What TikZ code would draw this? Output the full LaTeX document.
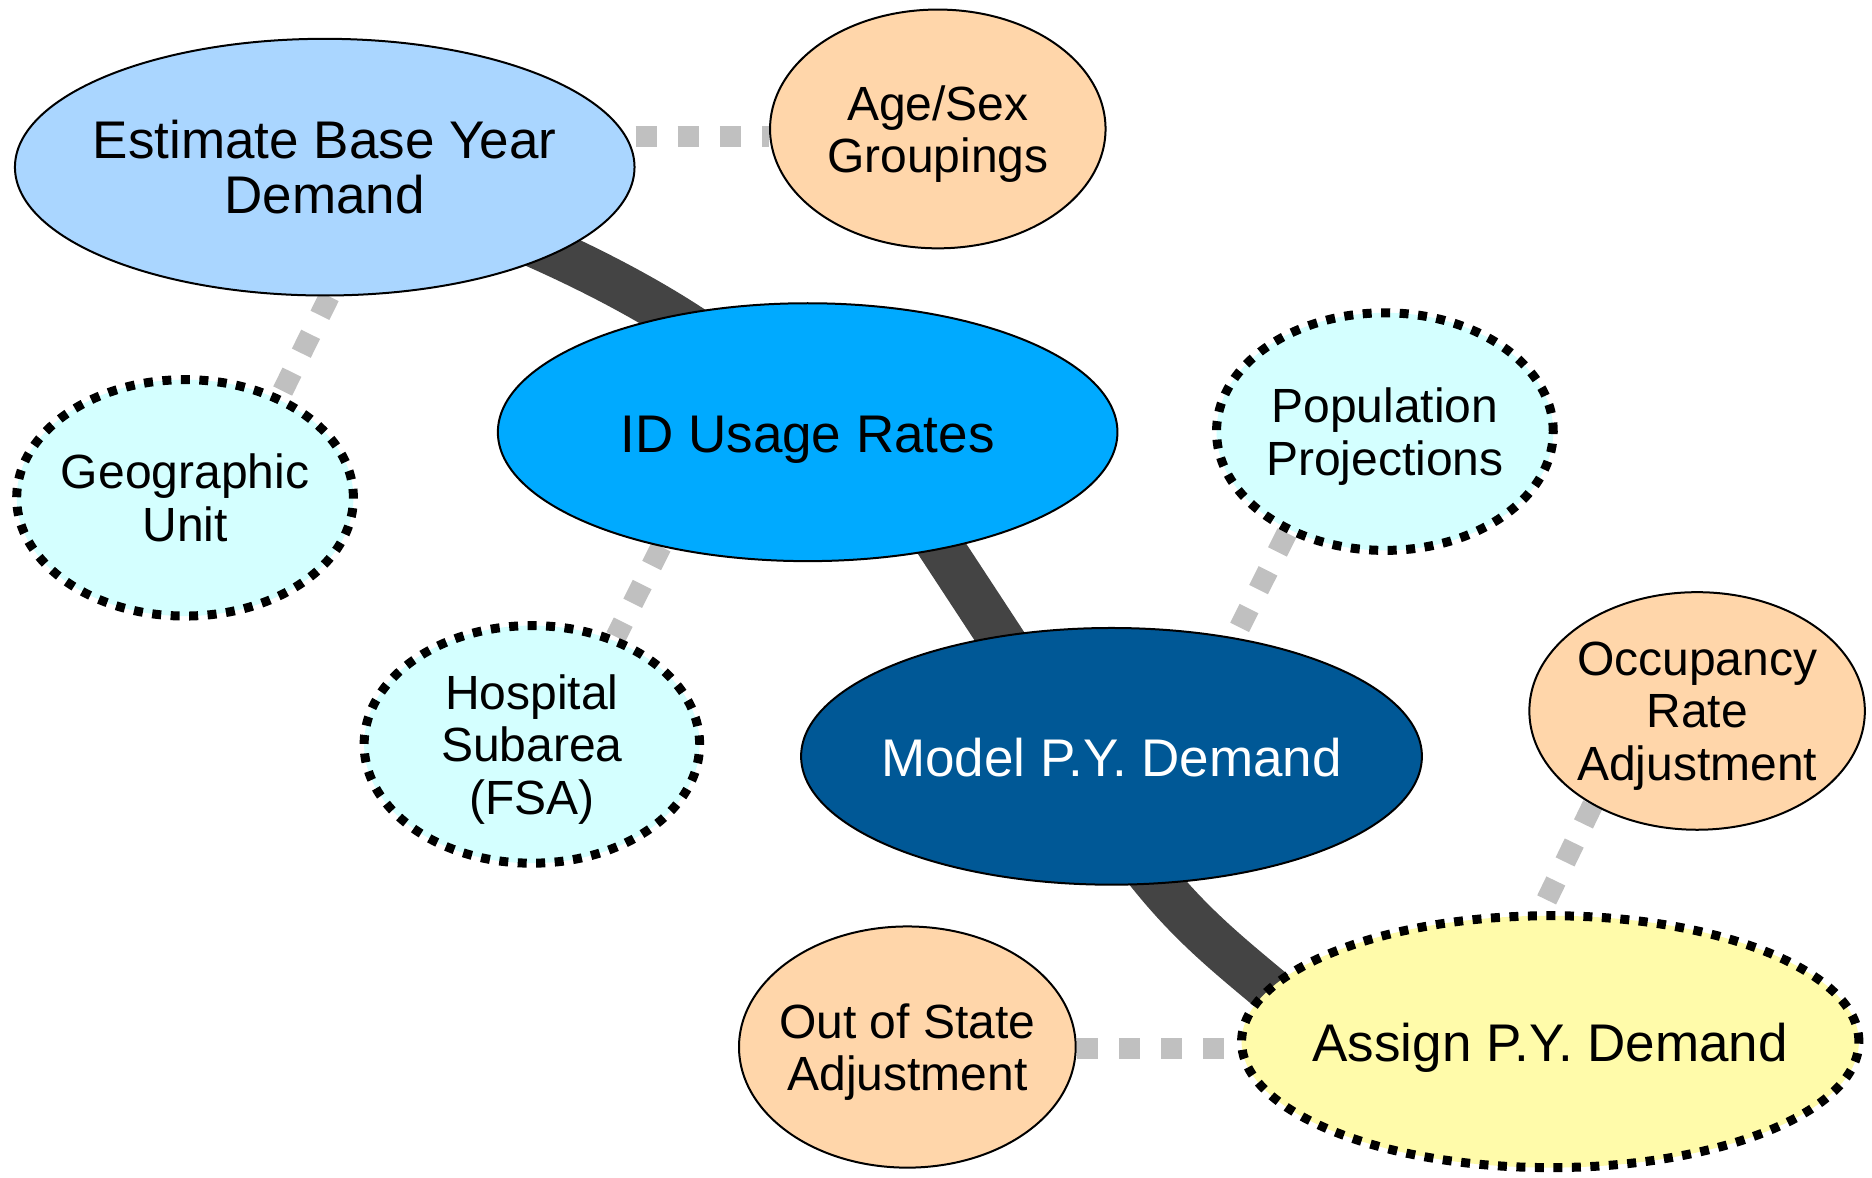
\documentclass[tikz,border=0pt]{standalone}
\usepackage{fontspec}
\setmainfont{Liberation Sans}
\usetikzlibrary{shapes.geometric,backgrounds}
\definecolor{cEB}{RGB}{170,214,255}
\definecolor{cID}{RGB}{0,170,255}
\definecolor{cMo}{RGB}{0,88,150}
\definecolor{cAs}{RGB}{255,251,170}
\definecolor{cPe}{RGB}{255,214,170}
\definecolor{cCy}{RGB}{212,255,255}
\definecolor{gline}{RGB}{192,192,192}
\definecolor{dline}{RGB}{68,68,68}
\tikzset{
  base/.style={ellipse, inner sep=0pt, align=center, text=black, draw=black, line width=2pt},
  big/.style={base, inner xsep=-30pt, font=\fontsize{53}{55}\selectfont},
  oneline/.style={text height=40pt, text depth=0pt},
  small/.style={base, inner xsep=-15pt, text depth=0pt, font=\fontsize{48}{52.5}\selectfont},
  dotb/.style={line width=9pt, dash pattern=on 9pt off 9.5pt},
  link/.style={line width=21pt, draw=gline, dash pattern=on 21pt off 21.2pt},
  bar/.style={line width=46pt, draw=dline},
}
\begin{document}
\begin{tikzpicture}[x=1.19394pt,y=-1.19394pt]
\useasboundingbox (0,0) rectangle (1568,986);
\node[big, fill=cEB, minimum width=619.6pt, minimum height=256.7pt] (ebyd) at (272,140) {Estimate Base Year\\Demand};
\node[small, fill=cPe, minimum width=335.5pt, minimum height=238.8pt] (age) at (785.5,108) {Age/Sex\\Groupings};
\node[small, dotb, fill=cCy, minimum width=336.7pt, minimum height=236.4pt] (geo) at (155,417) {Geographic\\Unit};
\node[big, oneline, fill=cID, minimum width=619.6pt, minimum height=257.9pt] (idu) at (676.5,362) {ID Usage Rates};
\node[small, dotb, fill=cCy, minimum width=336.7pt, minimum height=237.6pt] (pop) at (1160,361.5) {Population\\Projections};
\node[small, dotb, fill=cCy, minimum width=335.5pt, minimum height=237.6pt] (hosp) at (445.5,623.5) {Hospital\\Subarea\\(FSA)};
\node[big, oneline, fill=cMo, text=white, minimum width=620.8pt, minimum height=256.7pt] (model) at (931,633.5) {Model P.Y. Demand};
\node[small, fill=cPe, minimum width=335.5pt, minimum height=237.6pt] (occ) at (1421.5,595.5) {Occupancy\\Rate\\Adjustment};
\node[small, fill=cPe, text depth=-10pt, minimum width=336.7pt, minimum height=241.2pt] (outs) at (760,877) {Out of State\\Adjustment};
\node[big, oneline, dotb, fill=cAs, minimum width=617.3pt, minimum height=251.9pt] (assign) at (1298.5,872.5) {Assign P.Y. Demand};
\begin{pgfonlayer}{background}
\fill[white] (0,0) rectangle (1568,986);
\draw[bar] (ebyd.center) .. controls (463.3,198.5) and (618.6,280.1) .. (idu.center);
\draw[bar, shorten <=-30pt, shorten >=-30pt] (idu.-41.2) -- (model.133);
\draw[bar, shorten <=-25pt, shorten >=-25pt] (model.-70) .. controls (996.7,775.2) and (1030.9,801.2) .. (assign.169);
\draw[link] (ebyd.east |- 0,114.5) -- (age.west |- 0,114.5);
\draw[link] (ebyd.-88.8) -- (geo.47.7);
\draw[link] (idu.-142) -- (hosp.52);
\draw[link] (pop.-134.8) -- (model.44.3);
\draw[link] (occ.-138) -- (assign.94.8);
\draw[link] (outs.east |- 0,878.6) -- (assign.west |- 0,878.6);
\end{pgfonlayer}
\end{tikzpicture}
\end{document}
